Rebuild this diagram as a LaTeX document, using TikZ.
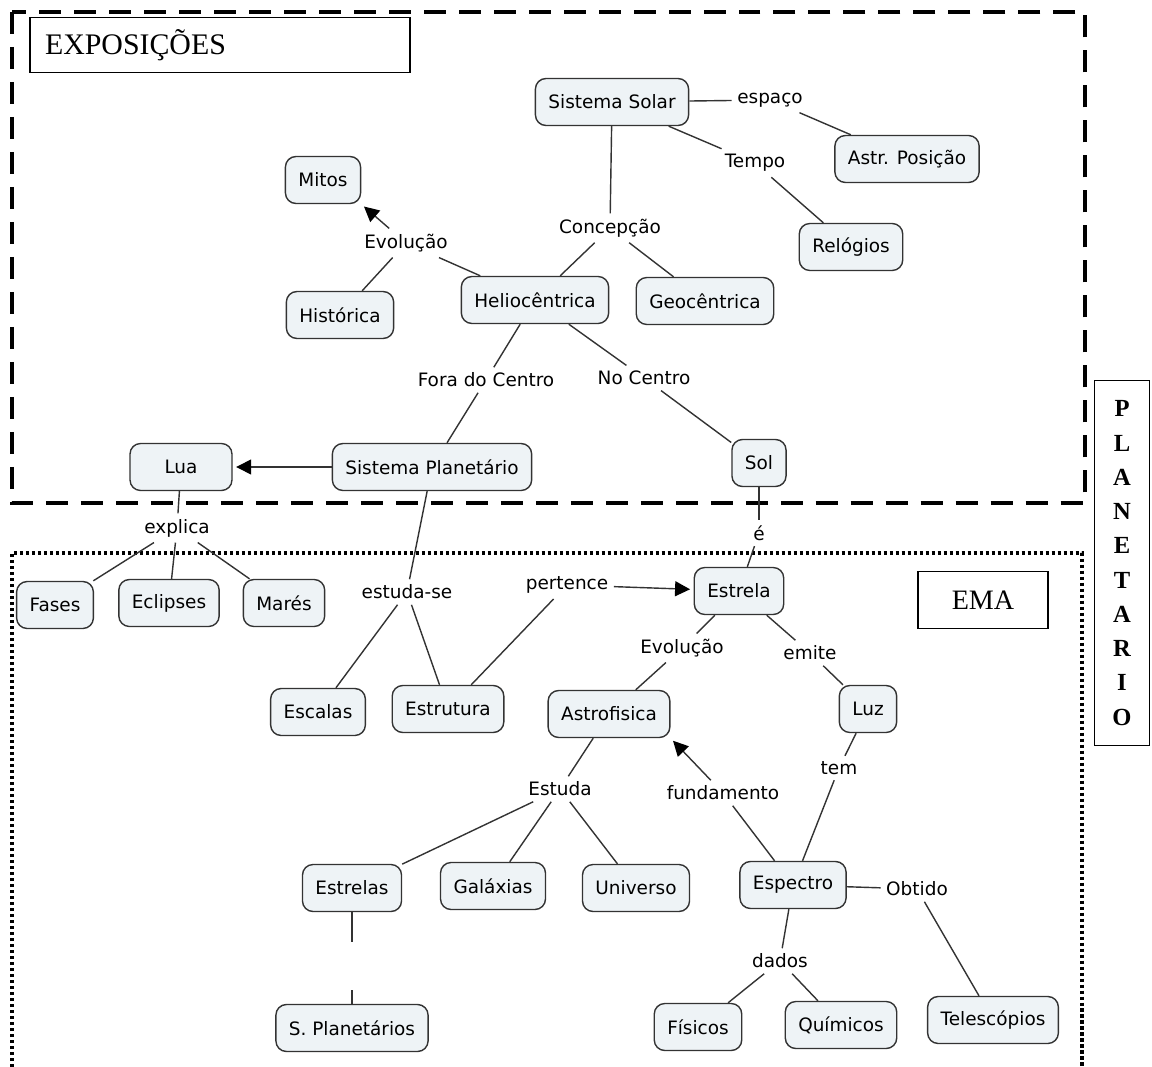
\documentclass[tikz,border=0pt]{standalone}
\usepackage{fontspec}
\setmainfont{Liberation Serif}
\newfontfamily\mapfont{DejaVu Sans}
\usetikzlibrary{arrows.meta}
\definecolor{conceptfill}{HTML}{EEF3F6}
\definecolor{conceptline}{HTML}{333333}
\tikzset{
  concept/.style={draw=conceptline, fill=conceptfill, rounded corners=6pt, line width=0.8pt,
    minimum height=0.94cm, inner xsep=0.26cm, font=\mapfont\fontsize{10.5}{12}\selectfont},
  phrase/.style={inner sep=3pt, font=\mapfont\fontsize{10.5}{12}\selectfont},
  link/.style={draw=conceptline, line width=0.8pt},
  linkarrow/.style={link, -{Triangle[length=0.3cm,width=0.3cm,color=black]}, shorten >=2pt},
  titlebox/.style={draw, line width=1pt, font=\fontsize{17}{20}\selectfont}
}
\begin{document}
\begin{tikzpicture}[x=0.02cm, y=-0.02cm]
\useasboundingbox (0,0) rectangle (1152,1067);
% zones
\draw[line width=2.4pt, dash pattern=on 0.44cm off 0.26cm] (12,12) rectangle (1085,503);
\draw[line width=2.1pt, dash pattern=on 0.065cm off 0.055cm] (12,1067) -- (12,553) -- (1082,553) -- (1082,1067);
\node[titlebox, minimum width=7.6cm, minimum height=1.1cm, text width=7.0cm, align=left, inner xsep=0.3cm] (expo) at (220,45) {EXPOSIÇÕES};
\node[titlebox, minimum width=2.6cm, minimum height=1.14cm, font=\fontsize{16}{19}\selectfont] (ema) at (983,600) {EMA};
\node[draw, line width=0.8pt, minimum width=1.1cm, minimum height=7.3cm, align=center,
  font=\fontsize{14}{19.5}\selectfont\bfseries] (planetario) at (1122,563) {P\\L\\A\\N\\E\\T\\A\\R\\I\\O};

% concepts
\node[concept] (solar) at (612,102) {Sistema Solar};
\node[concept] (astr) at (907,159) {Astr. Posição};
\node[concept] (relogios) at (851,247) {Relógios};
\node[concept] (mitos) at (323,180) {Mitos};
\node[concept] (historica) at (340,315) {Histórica};
\node[concept] (helio) at (535,300) {Heliocêntrica};
\node[concept] (geo) at (705,301) {Geocêntrica};
\node[concept, minimum width=2.04cm] (lua) at (181,467) {Lua};
\node[concept] (planetario2) at (432,467) {Sistema Planetário};
\node[concept] (sol) at (759,463) {Sol};
\node[concept] (fases) at (55,605) {Fases};
\node[concept] (eclipses) at (169,603) {Eclipses};
\node[concept] (mares) at (284,603) {Marés};
\node[concept] (estrela) at (739,591) {Estrela};
\node[concept] (escalas) at (318,712) {Escalas};
\node[concept] (estrutura) at (448,709) {Estrutura};
\node[concept] (astrofisica) at (609,714) {Astrofisica};
\node[concept] (luz) at (868,709) {Luz};
\node[concept] (estrelas) at (352,888) {Estrelas};
\node[concept] (galaxias) at (493,886) {Galáxias};
\node[concept] (universo) at (636,888) {Universo};
\node[concept] (espectro) at (793,885) {Espectro};
\node[concept] (splanetarios) at (352,1028) {S. Planetários};
\node[concept] (fisicos) at (698,1027) {Físicos};
\node[concept] (quimicos) at (841,1025) {Químicos};
\node[concept] (telescopios) at (993,1020) {Telescópios};

% linking phrases
\node[phrase] (espaco) at (770,100) {espaço};
\node[phrase] (tempo) at (755,163) {Tempo};
\node[phrase] (concepcao) at (610,228) {Concepção};
\node[phrase] (evolucao) at (406,243) {Evolução};
\node[phrase] (fora) at (486,380) {Fora do Centro};
\node[phrase] (nocentro) at (644,378) {No Centro};
\node[phrase] (explica) at (177,528) {explica};
\node[phrase] (e) at (759,533) {é};
\node[phrase] (estudase) at (407,592) {estuda-se};
\node[phrase] (pertence) at (567,585) {pertence};
\node[phrase] (evolucao2) at (682,648) {Evolução};
\node[phrase] (emite) at (810,653) {emite};
\node[phrase] (estuda) at (560,789) {Estuda};
\node[phrase] (fundamento) at (723,793) {fundamento};
\node[phrase] (tem) at (839,768) {tem};
\node[phrase] (obtido) at (917,889) {Obtido};
\node[phrase] (dados) at (780,961) {dados};
\coordinate (gaptop) at (352,942);
\coordinate (gapbot) at (352,990);

% connections
\draw[link] (solar) -- (espaco);
\draw[link] (espaco) -- (astr);
\draw[link] (solar) -- (tempo);
\draw[link] (tempo) -- (relogios);
\draw[link] (solar) -- (concepcao);
\draw[link] (concepcao) -- (helio);
\draw[link] (concepcao) -- (geo);
\draw[link] (helio) -- (evolucao);
\draw[linkarrow] (evolucao) -- (mitos.south east);
\draw[link] (evolucao) -- (historica);
\draw[link] (helio) -- (fora);
\draw[link] (fora) -- (planetario2);
\draw[link] (helio) -- (nocentro);
\draw[link] (nocentro) -- (sol);
\draw[linkarrow] (planetario2) -- (lua);
\draw[link] (lua) -- (explica);
\draw[link] (explica) -- (fases);
\draw[link] (explica) -- (eclipses);
\draw[link] (explica) -- (mares);
\draw[link] (planetario2) -- (estudase);
\draw[link] (estudase) -- (escalas);
\draw[link] (estudase) -- (estrutura);
\draw[link] (estrutura) -- (pertence);
\draw[linkarrow] (pertence) -- (estrela);
\draw[link] (sol) -- (e);
\draw[link] (e) -- (estrela);
\draw[link] (estrela) -- (evolucao2);
\draw[link] (evolucao2) -- (astrofisica);
\draw[link] (estrela) -- (emite);
\draw[link] (emite) -- (luz);
\draw[link] (astrofisica) -- (estuda);
\draw[link] (estuda) -- (estrelas);
\draw[link] (estuda) -- (galaxias);
\draw[link] (estuda) -- (universo);
\draw[link] (espectro) -- (fundamento);
\draw[linkarrow] (fundamento) -- (astrofisica.south east);
\draw[link] (luz) -- (tem);
\draw[link] (tem) -- (espectro);
\draw[link] (espectro) -- (obtido);
\draw[link] (obtido) -- (telescopios);
\draw[link] (espectro) -- (dados);
\draw[link] (dados) -- (fisicos);
\draw[link] (dados) -- (quimicos);
\draw[link] (estrelas) -- (gaptop);
\draw[link] (gapbot) -- (splanetarios);
\end{tikzpicture}
\end{document}
